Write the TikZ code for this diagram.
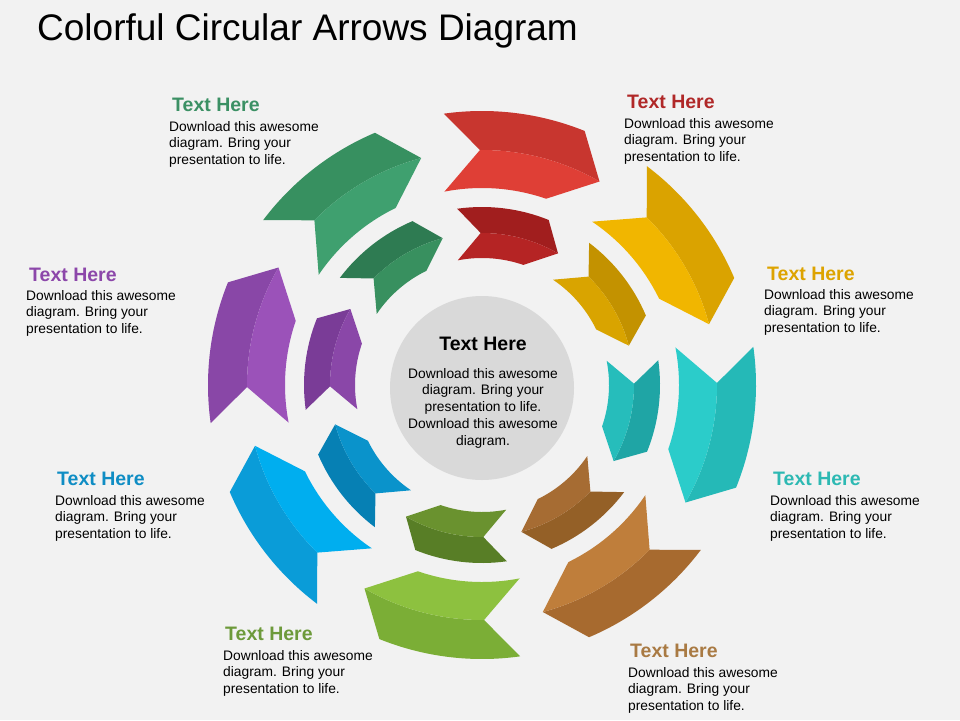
\documentclass[tikz,border=0pt]{standalone}
\usepackage{fontspec}
\setmainfont{Liberation Sans}
\usetikzlibrary{positioning}

\definecolor{backdrop}{HTML}{F2F2F2}
\definecolor{hubgray}{HTML}{D9D9D9}
\definecolor{redA}{HTML}{C8362F}
\definecolor{redB}{HTML}{DF3F36}
\definecolor{redC}{HTML}{A11E1E}
\definecolor{redD}{HTML}{B52424}
\definecolor{yelA}{HTML}{DAA300}
\definecolor{yelB}{HTML}{F1B600}
\definecolor{yelC}{HTML}{C39200}
\definecolor{yelD}{HTML}{D9A400}
\definecolor{cyaA}{HTML}{25B9B7}
\definecolor{cyaB}{HTML}{2BCCCA}
\definecolor{cyaC}{HTML}{1FA5A5}
\definecolor{cyaD}{HTML}{26BDBB}
\definecolor{broA}{HTML}{A76A2F}
\definecolor{broB}{HTML}{BF7E3B}
\definecolor{broC}{HTML}{946027}
\definecolor{broD}{HTML}{A66C33}
\definecolor{limA}{HTML}{7BAE36}
\definecolor{limB}{HTML}{8DC13F}
\definecolor{limC}{HTML}{587E26}
\definecolor{limD}{HTML}{6A922F}
\definecolor{bluA}{HTML}{0A9CD8}
\definecolor{bluB}{HTML}{00AEEF}
\definecolor{bluC}{HTML}{0680B4}
\definecolor{bluD}{HTML}{0A93CB}
\definecolor{purA}{HTML}{8947A7}
\definecolor{purB}{HTML}{9B52B9}
\definecolor{purC}{HTML}{7A3C97}
\definecolor{purD}{HTML}{8A47A8}
\definecolor{grnA}{HTML}{379060}
\definecolor{grnB}{HTML}{3FA06F}
\definecolor{grnC}{HTML}{2E7B52}
\definecolor{grnD}{HTML}{38905F}
% label colours
\definecolor{redT}{HTML}{B02828}
\definecolor{yelT}{HTML}{DDA300}
\definecolor{cyaT}{HTML}{2DB9B3}
\definecolor{broT}{HTML}{A97A43}
\definecolor{limT}{HTML}{6D9A3A}
\definecolor{bluT}{HTML}{0F8DC4}
\definecolor{purT}{HTML}{8C47AA}
\definecolor{grnT}{HTML}{3B9064}

% one folded arrow of the ring: #1 turn, #2 outer, #3 inner, #4 ridge radius
\newcommand{\ringarrow}[6]{%
  \fill[#5] (90.5+#1:#4) -- (98+#1:#2)
    arc[start angle=98+#1, end angle=68+#1, radius=#2]
    -- (60+#1:#4)
    arc[start angle=60+#1, end angle=90.5+#1, radius=#4] -- cycle;
  \fill[#6] (90.5+#1:#4)
    arc[start angle=90.5+#1, end angle=60+#1, radius=#4]
    -- (71+#1:#3)
    arc[start angle=71+#1, end angle=101+#1, radius=#3] -- cycle;
}

\begin{document}
\begin{tikzpicture}[x=1pt,y=1pt,
    heading/.style={
% The font:
font=\fontsize{19.5}{22}\selectfont\bfseries,
% The placement:
anchor=base west, inner sep=0pt,
},
    blurb/.style={
% The font:
font=\fontsize{13.8}{16.5}\selectfont,
% The placement (base is the last line):
anchor=base west, inner sep=0pt, align=left,
},
    hub/.style={
% The shape:
circle,
% The size:
minimum size=184pt,
% The fill:
fill=hubgray,
},
]
  \useasboundingbox (0,0) rectangle (960,-720);
  \fill[backdrop] (0,0) rectangle (960,-720);

  \node[anchor=base west, inner sep=0pt, font=\fontsize{37}{42}\selectfont]
    (title) at (37,-40) {Colorful Circular Arrows Diagram};

  \begin{scope}[shift={(482,-385)}]
    \ringarrow{0}{274}{197}{235}{redA}{redB}
    \ringarrow{0}{178}{127}{152}{redC}{redD}
    \ringarrow{-45}{274}{197}{235}{yelA}{yelB}
    \ringarrow{-45}{178}{127}{152}{yelC}{yelD}
    \ringarrow{-90}{274}{197}{235}{cyaA}{cyaB}
    \ringarrow{-90}{178}{127}{152}{cyaC}{cyaD}
    \ringarrow{-135}{274}{197}{235}{broA}{broB}
    \ringarrow{-135}{178}{127}{152}{broC}{broD}
    \ringarrow{-180}{274}{197}{235}{limA}{limB}
    \ringarrow{-180}{178}{127}{152}{limC}{limD}
    \ringarrow{-225}{274}{197}{235}{bluA}{bluB}
    \ringarrow{-225}{178}{127}{152}{bluC}{bluD}
    \ringarrow{-270}{274}{197}{235}{purA}{purB}
    \ringarrow{-270}{178}{127}{152}{purC}{purD}
    \ringarrow{-315}{274}{197}{235}{grnA}{grnB}
    \ringarrow{-315}{178}{127}{152}{grnC}{grnD}
  \end{scope}

  \node[hub] (hub) at (482,-388) {};
  \node[heading, anchor=base] (hubhead) at (483,-350) {Text Here};
  \node[blurb, anchor=base, align=center, font=\fontsize{13.8}{16.7}\selectfont]
    (hubtext) at (483,-445)
    {Download this awesome\\diagram. Bring your\\presentation to life.\\Download this awesome\\diagram.};

  \node[heading, text=grnT] (grnhead) at (172,-111) {Text Here};
  \node[blurb] (grntext) at (169,-164)
    {Download this awesome\\diagram. Bring your\\presentation to life.};
  \node[heading, text=redT] (redhead) at (627,-108) {Text Here};
  \node[blurb] (redtext) at (624,-161)
    {Download this awesome\\diagram. Bring your\\presentation to life.};
  \node[heading, text=yelT] (yelhead) at (767,-280) {Text Here};
  \node[blurb] (yeltext) at (764,-332)
    {Download this awesome\\diagram. Bring your\\presentation to life.};
  \node[heading, text=purT] (purhead) at (29,-281) {Text Here};
  \node[blurb] (purtext) at (26,-333)
    {Download this awesome\\diagram. Bring your\\presentation to life.};
  \node[heading, text=cyaT] (cyahead) at (773,-485) {Text Here};
  \node[blurb] (cyatext) at (770,-538)
    {Download this awesome\\diagram. Bring your\\presentation to life.};
  \node[heading, text=bluT] (bluhead) at (57,-485) {Text Here};
  \node[blurb] (blutext) at (55,-538)
    {Download this awesome\\diagram. Bring your\\presentation to life.};
  \node[heading, text=limT] (limhead) at (225,-640) {Text Here};
  \node[blurb] (limtext) at (223,-693)
    {Download this awesome\\diagram. Bring your\\presentation to life.};
  \node[heading, text=broT] (brohead) at (630,-657) {Text Here};
  \node[blurb] (brotext) at (628,-710)
    {Download this awesome\\diagram. Bring your\\presentation to life.};
\end{tikzpicture}
\end{document}
